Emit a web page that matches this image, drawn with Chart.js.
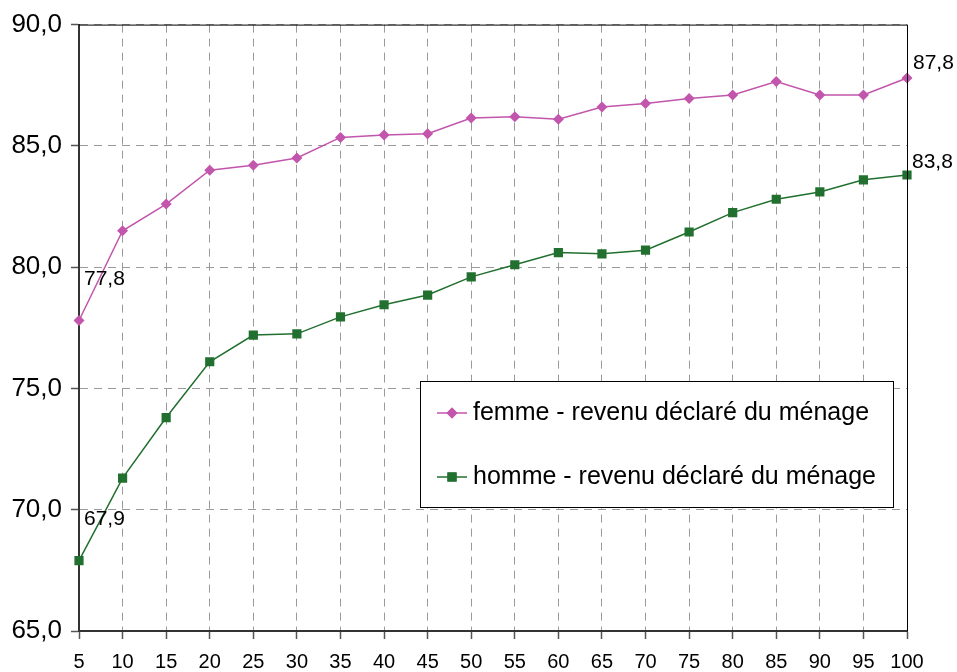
<!DOCTYPE html>
<html>
<head>
<meta charset="utf-8">
<script src="https://cdn.jsdelivr.net/npm/chart.js@4"></script>
<style>
html,body{margin:0;padding:0;background:#fff;}
#wrap{width:957px;height:672px;}
</style>
</head>
<body>
<div id="wrap"><canvas id="c" width="957" height="672"></canvas></div>
<script>
const categories = ['5','10','15','20','25','30','35','40','45','50','55','60','65','70','75','80','85','90','95','100'];
const femme = [77.8,81.5,82.6,84.0,84.2,84.5,85.35,85.45,85.5,86.15,86.2,86.1,86.6,86.75,86.95,87.1,87.65,87.1,87.1,87.8];
const homme = [67.9,71.3,73.8,76.1,77.2,77.25,77.95,78.45,78.85,79.6,80.1,80.6,80.55,80.7,81.45,82.25,82.8,83.1,83.6,83.8];
const seriesNames = ['femme - revenu déclaré du ménage','homme - revenu déclaré du ménage'];
const yTicks = [65,70,75,80,85,90];

const FONT = '"Liberation Sans", Arial, sans-serif';
const C_F = '#C255AC';
const C_H = '#22702F';

const fmt = v => v.toFixed(1).replace('.', ',');

const extras = {
  id: 'extras',
  afterDraw(chart) {
    const ctx = chart.ctx;
    const a = chart.chartArea;
    // frame top & right
    ctx.save();
    ctx.strokeStyle = '#000';
    ctx.lineWidth = 1;
    ctx.beginPath();
    ctx.moveTo(a.left, a.top + 0.5);
    ctx.lineTo(a.right + 0.5, a.top + 0.5);
    ctx.lineTo(a.right + 0.5, a.bottom);
    ctx.stroke();
    ctx.restore();

    // data labels for first and last points
    ctx.save();
    ctx.font = '21px ' + FONT;
    ctx.fillStyle = '#000';
    ctx.textBaseline = 'middle';
    ctx.textAlign = 'left';
    const m0 = chart.getDatasetMeta(0).data;
    const m1 = chart.getDatasetMeta(1).data;
    const d0 = chart.data.datasets[0].data, d1 = chart.data.datasets[1].data;
    ctx.fillText(fmt(d0[0]), m0[0].x + 5, m0[0].y - 41);
    ctx.fillText(fmt(d1[0]), m1[0].x + 5, m1[0].y - 41);
    const n = d0.length - 1;
    ctx.fillText(fmt(d0[n]), m0[n].x + 6, m0[n].y - 15);
    ctx.fillText(fmt(d1[n]), m1[n].x + 5, m1[n].y - 13);
    ctx.restore();

    // legend box
    ctx.save();
    const bx = 420.5, by = 381.5, bw = 473, bh = 126;
    ctx.fillStyle = '#fff';
    ctx.fillRect(bx, by, bw, bh);
    ctx.strokeStyle = '#000';
    ctx.lineWidth = 1;
    ctx.strokeRect(bx, by, bw, bh);
    const items = [
      {name: seriesNames[0], color: C_F, style: 'rectRot', r: 5.5, y: 413},
      {name: seriesNames[1], color: C_H, style: 'rect', r: 6.5, y: 477}
    ];
    items.forEach(it => {
      ctx.strokeStyle = it.color;
      ctx.lineWidth = 1.5;
      ctx.beginPath();
      ctx.moveTo(437, it.y);
      ctx.lineTo(467, it.y);
      ctx.stroke();
      ctx.fillStyle = it.color;
      Chart.helpers.drawPoint(ctx, {pointStyle: it.style, radius: it.r, borderWidth: 0, rotation: 0}, 452, it.y);
      ctx.fill();
      ctx.fillStyle = '#000';
      ctx.font = '25px ' + FONT;
      ctx.textBaseline = 'middle';
      ctx.textAlign = 'left';
      ctx.fillText(it.name, 473, it.y);
    });
    ctx.restore();
  }
};

new Chart(document.getElementById('c'), {
  type: 'line',
  data: {
    labels: categories,
    datasets: [
      {label: seriesNames[0], data: femme, borderColor: C_F, backgroundColor: C_F, borderWidth: 1.5,
       pointStyle: 'rectRot', pointRadius: 5.5, pointBorderWidth: 0, pointBackgroundColor: C_F, tension: 0},
      {label: seriesNames[1], data: homme, borderColor: C_H, backgroundColor: C_H, borderWidth: 1.5,
       pointStyle: 'rect', pointRadius: 6.5, pointBorderWidth: 0, pointBackgroundColor: C_H, tension: 0}
    ]
  },
  options: {
    responsive: false,
    animation: false,
    devicePixelRatio: 1,
    layout: {padding: {top: 23, right: 50, left: 0, bottom: 0}},
    plugins: {legend: {display: false}, tooltip: {enabled: false}},
    scales: {
      x: {
        type: 'category',
        offset: false,
        grid: {color: '#9a9a9a', lineWidth: 1, tickLength: 8, tickColor: '#555', tickWidth: 1.5},
        border: {display: true, color: '#333', width: 2, dash: [8, 6]},
        ticks: {color: '#000', font: {family: FONT, size: 20}, padding: 11, maxRotation: 0, autoSkip: false},
        afterFit(s) { s.height = 41; }
      },
      y: {
        min: 65, max: 90,
        afterBuildTicks(s) { s.ticks = yTicks.map(v => ({value: v})); },
        grid: {color: '#9a9a9a', lineWidth: 1, tickLength: 8, tickColor: '#555', tickWidth: 1.5},
        border: {display: true, color: '#333', width: 2, dash: [8, 6]},
        ticks: {color: '#000', font: {family: FONT, size: 26}, padding: 9, callback: v => fmt(v)},
        afterFit(s) { s.width = 79; }
      }
    }
  },
  plugins: [extras]
});
</script>
</body>
</html>
